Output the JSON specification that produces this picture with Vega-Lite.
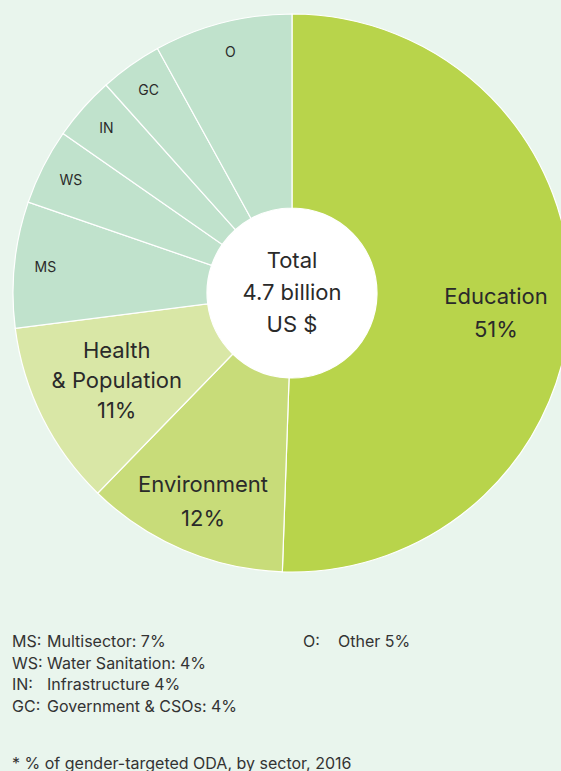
{
  "$schema": "https://vega.github.io/schema/vega-lite/v6.json",
  "background": "#e9f5ed",
  "padding": 0,
  "spacing": 48,
  "config": {"view": {"stroke": null}, "font": "Inter", "text": {"color": "#2a2a2a", "font": "Inter"}},
  "title": {"text": "* % of gender-targeted ODA, by sector, 2016", "orient": "bottom", "anchor": "start", "dx": 12, "offset": 41, "fontSize": 16, "fontWeight": "normal", "color": "#333333", "font": "Inter"},
  "vconcat": [
    {
      "width": 584,
      "height": 586,
      "data": {"values": [
        {"sector": "Education", "label": "Education\n51%", "kind": "edu", "value": 50.5, "ord": 1},
        {"sector": "Environment", "label": "Environment\n12%", "kind": "env", "value": 11.7, "ord": 2},
        {"sector": "Health & Population", "label": "Health\n& Population\n11%", "kind": "health", "value": 10.7, "ord": 3},
        {"sector": "Multisector", "label": "MS", "kind": "small", "value": 7.3, "ord": 4},
        {"sector": "Water Sanitation", "label": "WS", "kind": "small", "value": 4.4, "ord": 5},
        {"sector": "Infrastructure", "label": "IN", "kind": "small", "value": 3.7, "ord": 6},
        {"sector": "Government & CSOs", "label": "GC", "kind": "small", "value": 3.6, "ord": 7},
        {"sector": "Other", "label": "O", "kind": "small", "value": 8.0, "ord": 8}
      ]},
      "layer": [
        {
          "data": {"values": [{"v": 1}]},
          "mark": {"type": "arc", "outerRadius": 85, "fill": "#ffffff"},
          "encoding": {"theta": {"field": "v", "type": "quantitative", "stack": true}}
        },
        {
          "mark": {"type": "arc", "innerRadius": 85, "outerRadius": 279, "stroke": "#ffffff", "strokeWidth": 1.2},
          "encoding": {
            "theta": {"field": "value", "type": "quantitative", "stack": true},
            "order": {"field": "ord", "type": "quantitative"},
            "color": {"field": "sector", "type": "nominal", "legend": null,
              "scale": {"domain": ["Education", "Environment", "Health & Population", "Multisector", "Water Sanitation", "Infrastructure", "Government & CSOs", "Other"],
                        "range": ["#b8d44b", "#c8dc79", "#d9e7a6", "#c0e2cc", "#c0e2cc", "#c0e2cc", "#c0e2cc", "#c0e2cc"]}}
          }
        },
        {
          "mark": {"type": "text", "radius": 248, "fontSize": 14, "align": "center", "baseline": "middle"},
          "encoding": {
            "theta": {"field": "value", "type": "quantitative", "stack": true},
            "order": {"field": "ord", "type": "quantitative"},
            "text": {"condition": {"test": "datum.kind === 'small'", "field": "label"}, "value": ""}
          }
        },
        {
          "mark": {"type": "text", "radius": 196, "dy": -30, "fontSize": 22, "lineBreak": "\n", "lineHeight": 30, "align": "center", "baseline": "middle"},
          "encoding": {
            "theta": {"field": "value", "type": "quantitative", "stack": true},
            "order": {"field": "ord", "type": "quantitative"},
            "text": {"condition": {"test": "datum.kind === 'health'", "field": "label"}, "value": ""}
          }
        },
        {
          "mark": {"type": "text", "radius": 227, "dy": -17, "fontSize": 22, "lineBreak": "\n", "lineHeight": 34, "align": "center", "baseline": "middle"},
          "encoding": {
            "theta": {"field": "value", "type": "quantitative", "stack": true},
            "order": {"field": "ord", "type": "quantitative"},
            "text": {"condition": {"test": "datum.kind === 'env'", "field": "label"}, "value": ""}
          }
        },
        {
          "mark": {"type": "text", "radius": 204, "dy": 0, "fontSize": 22, "lineBreak": "\n", "lineHeight": 33, "align": "center", "baseline": "middle"},
          "encoding": {
            "theta": {"field": "value", "type": "quantitative", "stack": true},
            "order": {"field": "ord", "type": "quantitative"},
            "text": {"condition": {"test": "datum.kind === 'edu'", "field": "label"}, "value": ""}
          }
        },
        {
          "data": {"values": [{"t": "Total\n4.7 billion\nUS $"}]},
          "mark": {"type": "text", "dy": -32, "fontSize": 22, "lineBreak": "\n", "lineHeight": 32, "align": "center", "baseline": "middle"},
          "encoding": {"text": {"field": "t"}}
        }
      ],
      "resolve": {"scale": {"theta": "independent"}}
    },
    {
      "width": 561,
      "height": 65,
      "data": {"values": [
        {"abbr": "MS:", "desc": "Multisector: 7%", "col": "left", "line": 1},
        {"abbr": "WS:", "desc": "Water Sanitation: 4%", "col": "left", "line": 2},
        {"abbr": "IN:", "desc": "Infrastructure 4%", "col": "left", "line": 3},
        {"abbr": "GC:", "desc": "Government & CSOs: 4%", "col": "left", "line": 4},
        {"abbr": "O:", "desc": "Other 5%", "col": "right", "line": 1}
      ]},
      "encoding": {
        "x": {"field": "col", "type": "nominal", "axis": null, "scale": {"type": "point", "padding": 0, "domain": ["left", "right"], "range": [12, 303]}},
        "y": {"field": "line", "type": "ordinal", "axis": null, "scale": {"type": "point", "padding": 0}}
      },
      "layer": [
        {"mark": {"type": "text", "align": "left", "baseline": "middle", "fontSize": 16, "color": "#333333"}, "encoding": {"text": {"field": "abbr"}}},
        {"mark": {"type": "text", "align": "left", "baseline": "middle", "fontSize": 16, "dx": 35, "color": "#333333"}, "encoding": {"text": {"field": "desc"}}}
      ]
    }
  ]
}
